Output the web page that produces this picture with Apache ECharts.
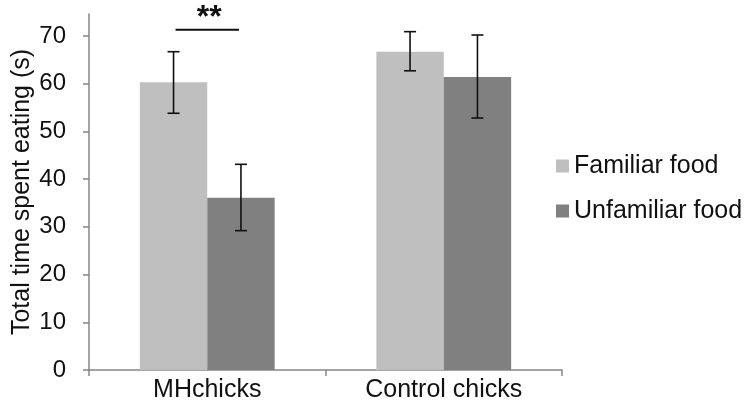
<!DOCTYPE html>
<html>
<head>
<meta charset="utf-8">
<script src="https://cdn.jsdelivr.net/npm/echarts@6/dist/echarts.min.js"></script>
<style>
html,body{margin:0;padding:0;background:#fff;}
#chart{width:749px;height:409px;}
</style>
</head>
<body>
<div id="chart"></div>
<script>
const categories = ['MHchicks', 'Control chicks'];
const seriesNames = ['Familiar food', 'Unfamiliar food'];
const familiar = [60.3, 66.7];
const unfamiliar = [36.1, 61.4];
const familiarErrLow = [53.8, 62.7];
const familiarErrHigh = [66.7, 70.9];
const unfamiliarErrLow = [29.2, 52.8];
const unfamiliarErrHigh = [43.1, 70.2];
const yTicks = [0, 10, 20, 30, 40, 50, 60, 70];
const significance = [{ category: 0, level: 71.3, label: '**' }];

const FONT = 'Liberation Sans, Arial, sans-serif';
const colors = ['#bfbfbf', '#808080'];
const GAP = 0.43;

function errorSeries(lows, highs, sign) {
  return {
    type: 'custom',
    name: 'err' + sign,
    z: 10,
    clip: false,
    silent: true,
    data: categories.map((c, i) => [i, lows[i], highs[i]]),
    encode: { x: 0, y: [1, 2] },
    renderItem: function (params, api) {
      const band = api.size([1, 0])[0];
      const off = sign * band * (1 - GAP) / 4;
      const lo = api.coord([api.value(0), api.value(1)]);
      const hi = api.coord([api.value(0), api.value(2)]);
      const x = lo[0] + off;
      const cap = 6;
      const st = { stroke: '#111', lineWidth: 1.6 };
      return {
        type: 'group',
        children: [
          { type: 'line', shape: { x1: x, y1: lo[1], x2: x, y2: hi[1] }, style: st },
          { type: 'line', shape: { x1: x - cap, y1: lo[1], x2: x + cap, y2: lo[1] }, style: st },
          { type: 'line', shape: { x1: x - cap, y1: hi[1], x2: x + cap, y2: hi[1] }, style: st }
        ]
      };
    }
  };
}

const chart = echarts.init(document.getElementById('chart'));
chart.setOption({
  animation: false,
  backgroundColor: '#ffffff',
  grid: { left: 89, right: 187, top: 14, bottom: 39, containLabel: false, outerBoundsMode: 'none' },
  legend: {
    data: seriesNames,
    orient: 'vertical',
    left: 551,
    top: 148,
    itemWidth: 13,
    itemHeight: 13,
    itemGap: 19,
    icon: 'rect',
    textStyle: { fontFamily: FONT, fontSize: 25, color: '#111', lineHeight: 26, padding: [0, 0, 0, 0] }
  },
  xAxis: {
    type: 'category',
    data: categories,
    axisLine: { lineStyle: { color: '#868686', width: 1.5 } },
    axisTick: { show: true, length: 6, lineStyle: { color: '#868686', width: 1.5 } },
    axisLabel: { fontFamily: FONT, fontSize: 25, color: '#111', margin: 8 }
  },
  yAxis: {
    type: 'value',
    min: 0,
    max: 74.6,
    interval: 10,
    name: 'Total time spent eating (s)',
    nameLocation: 'middle',
    nameRotate: 90,
    nameGap: 54,
    nameMoveOverlap: false,
    nameTextStyle: { fontFamily: FONT, fontSize: 25, color: '#111' },
    axisLine: { show: true, lineStyle: { color: '#868686', width: 1.5 } },
    axisTick: { show: true, length: 6, customValues: yTicks, lineStyle: { color: '#868686', width: 1.5 } },
    axisLabel: { fontFamily: FONT, fontSize: 24, color: '#111', margin: 23, customValues: yTicks },
    splitLine: { show: false }
  },
  series: [
    {
      name: seriesNames[0], type: 'bar', data: familiar,
      itemStyle: { color: colors[0] }, barGap: '0%', barCategoryGap: (GAP * 100) + '%'
    },
    {
      name: seriesNames[1], type: 'bar', data: unfamiliar,
      itemStyle: { color: colors[1] }, barGap: '0%', barCategoryGap: (GAP * 100) + '%'
    },
    errorSeries(familiarErrLow, familiarErrHigh, -1),
    errorSeries(unfamiliarErrLow, unfamiliarErrHigh, 1),
    {
      type: 'custom',
      name: 'sig',
      z: 10,
      clip: false,
      silent: true,
      data: significance.map(s => [s.category, s.level]),
      encode: { x: 0, y: 1 },
      renderItem: function (params, api) {
        const band = api.size([1, 0])[0];
        const off = band * (1 - GAP) / 4;
        const p = api.coord([api.value(0), api.value(1)]);
        return {
          type: 'group',
          children: [
            { type: 'line', shape: { x1: p[0] - off + 2, y1: p[1], x2: p[0] + off - 2, y2: p[1] },
              style: { stroke: '#111', lineWidth: 2 } },
            { type: 'text', style: { text: significance[params.dataIndex].label, x: p[0] + 2, y: p[1] + 4,
              align: 'center', verticalAlign: 'bottom', font: 'bold 32px ' + FONT, fill: '#111' } }
          ]
        };
      }
    }
  ]
});
</script>
</body>
</html>
